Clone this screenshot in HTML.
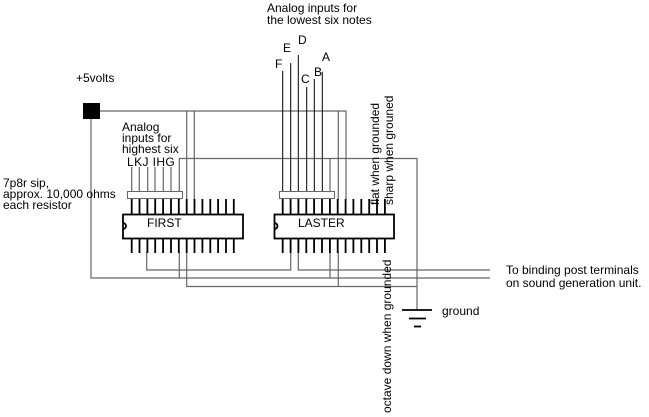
<!DOCTYPE html>
<html><head><style>
html,body{margin:0;padding:0;background:#fff;}
svg{display:block;}
text{font-family:"Liberation Sans",sans-serif;font-size:12px;fill:#000;}
</style></head><body>
<svg width="649" height="417" viewBox="0 0 649 417" xmlns="http://www.w3.org/2000/svg">
<rect width="649" height="417" fill="#fff"/>
<g stroke="#666" stroke-width="1.2" fill="none">
<polyline points="100,111 346,111 346,200"/>
<line x1="186.7" y1="111" x2="186.7" y2="200"/>
<line x1="194.3" y1="111" x2="194.3" y2="200"/>
<line x1="338.3" y1="111" x2="338.3" y2="200"/>
<polyline points="91,119 91,278 490,278"/>
<polyline points="179.3,200 179.3,158.5 417,158.5 417,310"/>
<line x1="330" y1="158.5" x2="330" y2="200"/>
<line x1="131.7" y1="167" x2="131.7" y2="200"/>
<line x1="139.3" y1="167" x2="139.3" y2="200"/>
<line x1="147.7" y1="167" x2="147.7" y2="200"/>
<line x1="155" y1="167" x2="155" y2="200"/>
<line x1="163.3" y1="167" x2="163.3" y2="200"/>
<line x1="171" y1="167" x2="171" y2="200"/>
<polyline points="146.7,252 146.7,270 290.7,270 290.7,252"/>
<polyline points="298.3,252 298.3,270 490,270"/>
<line x1="179.3" y1="252" x2="179.3" y2="278"/>
<polyline points="186.7,252 186.7,286.5 417,286.5"/>
<line x1="330" y1="252" x2="330" y2="278"/>
<line x1="338.3" y1="252" x2="338.3" y2="286.5"/>
</g>
<g stroke="#000" stroke-width="1" fill="none">
<line x1="282.7" y1="70.7" x2="282.7" y2="200"/>
<line x1="290.7" y1="63" x2="290.7" y2="200"/>
<line x1="298.3" y1="55" x2="298.3" y2="200"/>
<line x1="306.7" y1="87" x2="306.7" y2="200"/>
<line x1="314.3" y1="79" x2="314.3" y2="200"/>
<line x1="322.3" y1="71.7" x2="322.3" y2="200"/>
</g>
<rect x="83" y="103" width="17" height="16" fill="#000"/>
<rect x="127.5" y="191.5" width="55" height="7" fill="#fff" stroke="#666" stroke-width="1"/>
<rect x="279.5" y="191.5" width="55" height="7" fill="#fff" stroke="#666" stroke-width="1"/>
<g stroke="#000" stroke-width="1.8">
<path d="M131.7 199V214M139.5 199V214M147.4 199V214M155.2 199V214M163.1 199V214M171 199V214M178.8 199V214M186.7 199V214M194.5 199V214M202.4 199V214M210.3 199V214M218.1 199V214M226 199V214M233.8 199V214"/>
<path d="M131.7 238V253M139.5 238V253M147.4 238V253M155.2 238V253M163.1 238V253M171 238V253M178.8 238V253M186.7 238V253M194.5 238V253M202.4 238V253M210.3 238V253M218.1 238V253M226 238V253M233.8 238V253"/>
<path d="M282.7 199V214M290.6 199V214M298.4 199V214M306.3 199V214M314.1 199V214M322 199V214M329.9 199V214M337.7 199V214M345.6 199V214M353.4 199V214M361.3 199V214M369.2 199V214M377 199V214M384.9 199V214"/>
<path d="M282.7 238V253M290.6 238V253M298.4 238V253M306.3 238V253M314.1 238V253M322 238V253M329.9 238V253M337.7 238V253M345.6 238V253M353.4 238V253M361.3 238V253M369.2 238V253M377 238V253M384.9 238V253"/>
</g>
<rect x="123" y="214.5" width="120" height="24" fill="#fff" stroke="#000" stroke-width="1.8"/>
<rect x="274.5" y="214.5" width="119.5" height="24" fill="#fff" stroke="#000" stroke-width="1.8"/>
<path d="M123 223 a3 3 0 0 1 0 6" fill="none" stroke="#000" stroke-width="1.8"/>
<path d="M274.5 223 a3 3 0 0 1 0 6" fill="none" stroke="#000" stroke-width="1.8"/>
<g stroke="#000" stroke-width="1.8">
<line x1="402" y1="310" x2="432" y2="310"/>
<line x1="409" y1="318.5" x2="426" y2="318.5"/>
<line x1="414" y1="326.5" x2="421" y2="326.5"/>
</g>
<text x="267" y="12">Analog inputs for</text>
<text x="267" y="24">the lowest six notes</text>
<text x="275" y="68">F</text>
<text x="283" y="52">E</text>
<text x="298" y="44">D</text>
<text x="301" y="83">C</text>
<text x="314" y="76">B</text>
<text x="322" y="61">A</text>
<text x="76" y="82">+5volts</text>
<text x="122" y="131">Analog</text>
<text x="122" y="142">inputs for</text>
<text x="122" y="153">highest six</text>
<text x="127" y="166" style="letter-spacing:0.4px">LKJ IHG</text>
<text x="3" y="187">7p8r sip,</text>
<text x="3" y="198">approx. 10,000 ohms</text>
<text x="3" y="209">each resistor</text>
<text x="147" y="227">FIRST</text>
<text x="298" y="227">LASTER</text>
<text x="506" y="274">To binding post terminals</text>
<text x="506" y="287">on sound generation unit.</text>
<text x="442" y="315">ground</text>
<text transform="translate(379,205) rotate(-90)">flat when grounded</text>
<text transform="translate(393,205) rotate(-90)">sharp when grouned</text>
<text transform="translate(391,413) rotate(-90)">octave down when grounded</text>
</svg>
</body></html>
